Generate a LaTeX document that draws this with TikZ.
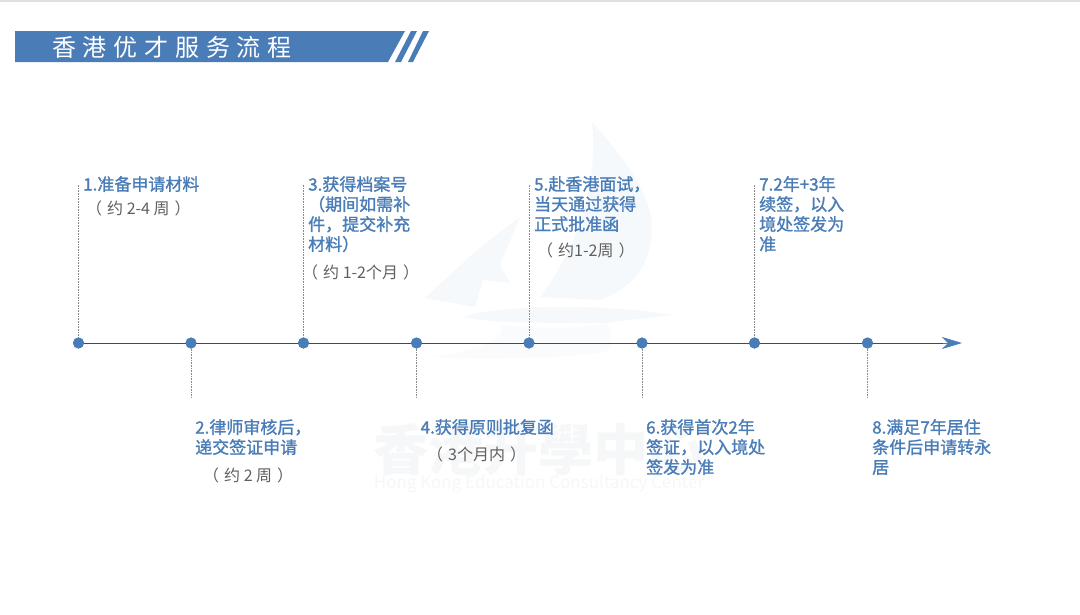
\documentclass[tikz,border=0pt]{standalone}
\usepackage{fontspec}
\setmainfont{Noto Sans CJK SC}
\newfontfamily\semibold[FakeBold=1.3]{Noto Sans CJK SC}
\usetikzlibrary{arrows.meta}
\definecolor{brand}{HTML}{4A7DB8}
\definecolor{axisc}{HTML}{3F4A5A}
\definecolor{durc}{HTML}{5F5F5F}
\definecolor{leader}{HTML}{8C8C8C}
\definecolor{wm}{HTML}{F6F9FC}
\definecolor{wmfaint}{HTML}{F9FBFD}
\definecolor{wmtext}{HTML}{F6F7F8}
\newcommand{\dg}{\hspace{5pt}}
\newcommand{\tg}{\hspace{6.8pt}}
\begin{document}
\begin{tikzpicture}[x=1pt,y=-1pt,
  dot/.style={circle,fill=brand,inner sep=0pt,minimum size=11pt},
  leaderline/.style={leader,line width=.6pt,densely dotted},
  label/.style={anchor=north west,inner sep=0pt,align=left,text=brand,font=\fontsize{17}{20}\selectfont\semibold},
  dur/.style={anchor=north west,inner sep=0pt,text=durc,font=\fontsize{16}{20}\selectfont}]
\useasboundingbox (0,0) rectangle (1080,614);
\fill[white] (0,0) rectangle (1080,614);
\fill[black!12] (0,0) rectangle (1080,1.5);
% watermark
\fill[wm] (592,122) .. controls (625,160) and (660,200) .. (650,245) .. controls (645,275) and (625,290) .. (600,300) -- (540,297) .. controls (565,265) and (600,200) .. (592,122) -- cycle;
\fill[wm] (520,217) .. controls (480,245) and (450,275) .. (425,298) -- (475,307) -- (483,280) -- (510,283) -- (500,265) -- cycle;
\fill[wm] (463,317) .. controls (500,305) and (600,303) .. (673,315) .. controls (650,318) and (625,320) .. (607,323) .. controls (560,322) and (500,325) .. (463,317) -- cycle;
\fill[wmfaint] (500,325) .. controls (550,330) and (590,328) .. (607,323) .. controls (612,335) and (612,345) .. (608,350) .. controls (590,358) and (480,360) .. (433,357) .. controls (480,350) and (510,338) .. (500,325) -- cycle;
\node[inner sep=0pt,text=wmtext,font=\fontsize{55}{55}\selectfont\bfseries] (wmcn) at (538,450) {香港升學中心};
\node[inner sep=0pt,text=wmtext,font=\fontsize{17}{17}\selectfont] (wmen) at (539,484) {Hong Kong Education Consultancy Center};
% title
\fill[brand] (15,31) -- (405,31) -- (388,62) -- (15,62) -- cycle;
\fill[brand] (411,31) -- (417,31) -- (401,62) -- (395,62) -- cycle;
\fill[brand] (423,31) -- (429,31) -- (413,62) -- (408,62) -- cycle;
\node[inner sep=0pt,anchor=west,text=white,font=\fontsize{24}{24}\selectfont] (title) at (52,47) {香\tg 港\tg 优\tg 才\tg 服\tg 务\tg 流\tg 程};
% axis
\coordinate (axisend) at (962,343);
\node[dot] (p1) at (78.5,343) {};
\node[dot] (p2) at (191,343) {};
\node[dot] (p3) at (303.5,343) {};
\node[dot] (p4) at (416.5,343) {};
\node[dot] (p5) at (529,343) {};
\node[dot] (p6) at (642,343) {};
\node[dot] (p7) at (754.5,343) {};
\node[dot] (p8) at (867.5,343) {};
\draw[axisc,line width=.9pt] (p1.center) -- (946,343);
\draw[brand,line width=.9pt,-{Stealth[length=20pt,width=12pt,inset=6pt]}] (943,343) -- (axisend);
\foreach \n in {1,...,8} {\fill[brand] (p\n) circle (5.5pt);}
% leaders
\coordinate (t1) at (78.5,185); \coordinate (t3) at (303.5,185);
\coordinate (t5) at (529,185); \coordinate (t7) at (754.5,185);
\coordinate (b2) at (191,397); \coordinate (b4) at (416.5,397);
\coordinate (b6) at (642,397); \coordinate (b8) at (867.5,397);
\foreach \a/\b in {p1/t1,p3/t3,p5/t5,p7/t7,p2/b2,p4/b4,p6/b6,p8/b8} {\draw[leaderline] (\a) -- (\b);}
% labels
\node[label] (l1) at (83,176) {1.准备申请材料};
\node[dur] (d1) at (86,201) {（\dg 约 2-4 周\dg ）};
\node[label] (l2) at (195,419) {2.律师审核后，\\递交签证申请};
\node[dur] (d2) at (203,468) {（\dg 约 2 周\dg ）};
\node[label] (l3) at (308,176) {3.获得档案号\\（期间如需补\\件，提交补充\\材料）};
\node[dur] (d3) at (302,265) {（\dg 约 1-2个月\dg ）};
\node[label] (l4) at (420.5,419) {4.获得原则批复函};
\node[dur] (d4) at (427,447) {（\dg 3个月内\dg ）};
\node[label] (l5) at (534,176) {5.赴香港面试，\\当天通过获得\\正式批准函};
\node[dur] (d5) at (537,243) {（\dg 约1-2周\dg ）};
\node[label] (l6) at (646,419) {6.获得首次2年\\签证，以入境处\\签发为准};
\node[label] (l7) at (759,176) {7.2年+3年\\续签，以入\\境处签发为\\准};
\node[label] (l8) at (872,419) {8.满足7年居住\\条件后申请转永\\居};
\end{tikzpicture}
\end{document}
